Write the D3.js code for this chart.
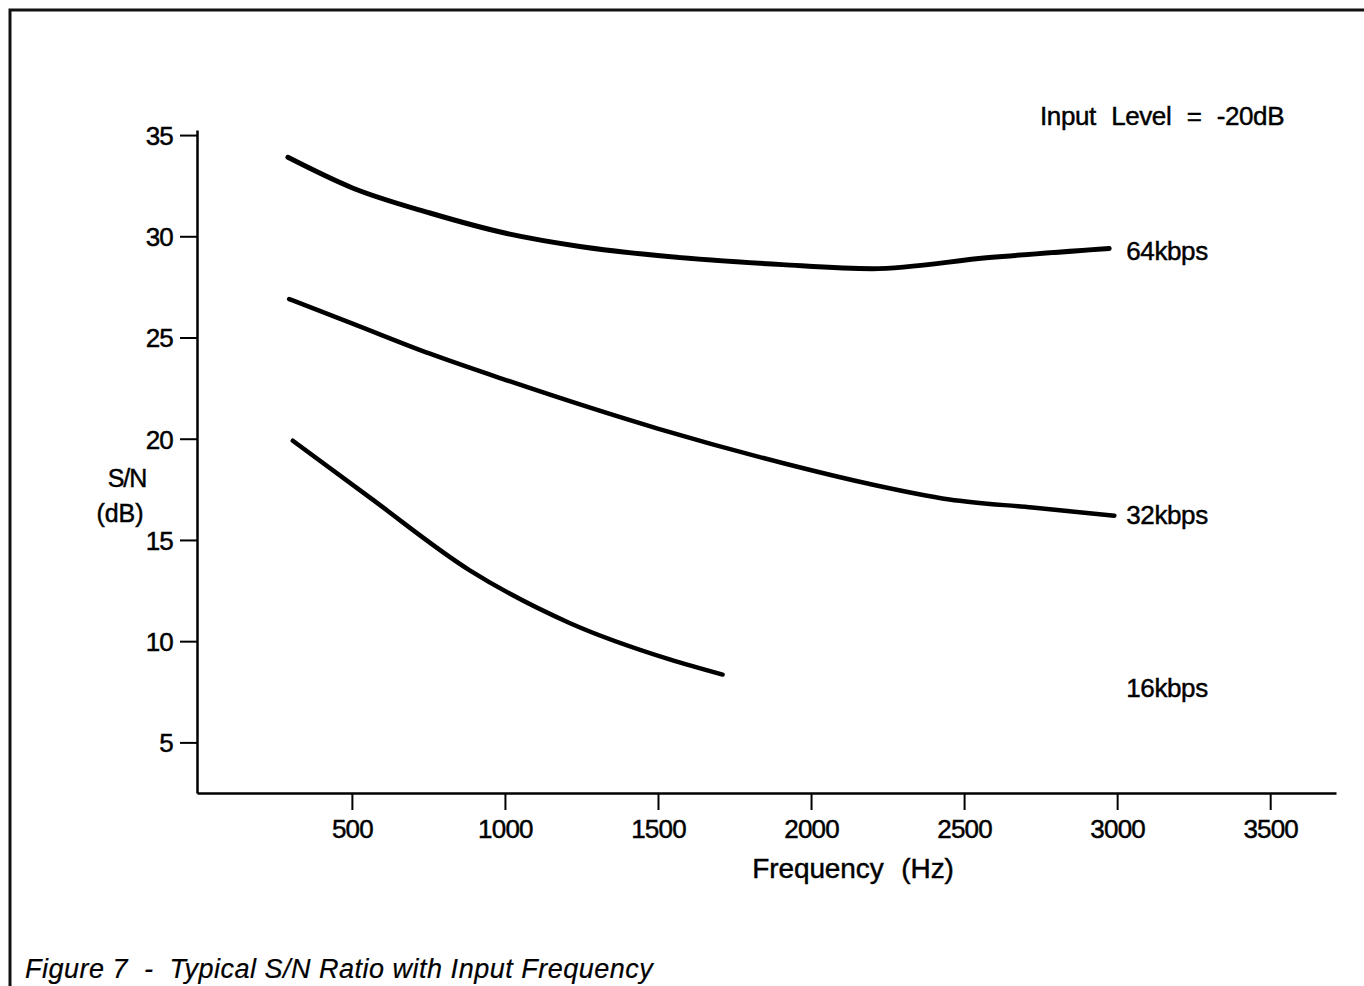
<!DOCTYPE html>
<html>
    <head>
        <title>S/N vs frequency</title>
        <meta charset="utf-8">
        <style>
            html, body{
                margin: 0;
                padding: 0;
                background: #fff;
            }
            svg text{
                font-family: "Liberation Sans", Arial, Helvetica, sans-serif;
                fill: #000;
                stroke: #000;
                stroke-width: 0.45px;
            }
        </style>
    </head>
    <body>
        <svg id="chart" width="1364" height="986"></svg>
        <script src="https://cdn.jsdelivr.net/npm/d3@7"></script>
        <script>
            // values
            var series = ["64kbps", "32kbps", "16kbps"];
            var freq64 = [291, 500, 755, 1003, 1245, 1499, 1906, 2200, 2582, 2974];
            var sn64   = [33.9, 32.4, 31.15, 30.15, 29.5, 29.05, 28.6, 28.4, 28.95, 29.4];
            var freq32 = [295, 500, 755, 1003, 1499, 1907, 2181, 2452, 2723, 2991];
            var sn32   = [26.9, 25.7, 24.2, 22.9, 20.5, 18.8, 17.8, 17.0, 16.6, 16.2];
            var freq16 = [307, 558, 885, 1211, 1538, 1711];
            var sn16   = [19.9, 17.1, 13.5, 10.9, 9.1, 8.35];
            var labelAt = [29.3, 16.25, 7.7];   // S/N value where each series name sits
            var xTicks = [500, 1000, 1500, 2000, 2500, 3000, 3500];
            var yTicks = [5, 10, 15, 20, 25, 30, 35];

            var curves = [
                {name: series[0], f: freq64, v: sn64},
                {name: series[1], f: freq32, v: sn32},
                {name: series[2], f: freq16, v: sn16}
            ];

            var svg = d3.select("#chart");

            // scan frame (top + left edge)
            svg.append("path")
                .attr("d", "M10,986 L10,10 L1364,10")
                .attr("fill", "none")
                .attr("stroke", "#111")
                .attr("stroke-width", 3);

            var x = d3.scaleLinear().domain([-6, 3715]).range([197, 1336]);
            var y = d3.scaleLinear().domain([2.5, 35.25]).range([793, 130]);

            var xAxis = svg.append("g")
                .attr("transform", "translate(0,793)")
                .call(d3.axisBottom(x).tickValues(xTicks).tickFormat(d3.format("d"))
                    .tickSize(17).tickPadding(5).tickSizeOuter(0));
            var yAxis = svg.append("g")
                .attr("transform", "translate(197,0)")
                .call(d3.axisLeft(y).tickValues(yTicks).tickFormat(d3.format("d"))
                    .tickSize(17).tickPadding(7).tickSizeOuter(0));

            [xAxis, yAxis].forEach(function(g){
                g.select(".domain").attr("stroke", "#000").attr("stroke-width", 2.5);
                g.selectAll(".tick line").attr("stroke", "#000").attr("stroke-width", 2);
                g.selectAll(".tick text")
                    .attr("font-size", 26)
                    .attr("letter-spacing", "-0.8px")
                    .attr("fill", "#000")
                    .style("font-family", "'Liberation Sans', Arial, sans-serif");
            });
            xAxis.selectAll(".tick text").attr("dy", "0.9em");
            yAxis.selectAll(".tick text").attr("dy", "0.36em");

            var line = d3.line()
                .x(function(d){ return x(d[0]); })
                .y(function(d){ return y(d[1]); })
                .curve(d3.curveMonotoneX);

            svg.selectAll("path.curve")
                .data(curves)
                .enter()
                .append("path")
                .attr("class", "curve")
                .attr("d", function(c){ return line(d3.zip(c.f, c.v)); })
                .attr("fill", "none")
                .attr("stroke", "#000")
                .attr("stroke-width", function(c, i){ return i == 0 ? 5 : 4.5; })
                .attr("stroke-linecap", "round");

            svg.selectAll("text.series")
                .data(curves)
                .enter()
                .append("text")
                .attr("class", "series")
                .attr("x", x(3030))
                .attr("y", function(c, i){ return y(labelAt[i]); })
                .attr("dy", "0.36em")
                .attr("font-size", 26)
                .attr("letter-spacing", "-0.4px")
                .text(function(c){ return c.name; });

            svg.append("text")
                .attr("x", 1040)
                .attr("y", 125)
                .attr("font-size", 26)
                .attr("letter-spacing", "-0.4px")
                .attr("word-spacing", "8.5px")
                .text("Input Level = -20dB");

            // axis titles
            var yTitle = svg.append("text")
                .attr("text-anchor", "middle")
                .attr("font-size", 25);
            yTitle.append("tspan").attr("x", 127).attr("y", 487).attr("letter-spacing", "-1px").text("S/N");
            yTitle.append("tspan").attr("x", 120).attr("y", 522).text("(dB)");

            svg.append("text")
                .attr("x", 853)
                .attr("y", 878)
                .attr("text-anchor", "middle")
                .attr("font-size", 28)
                .attr("letter-spacing", "-0.1px")
                .attr("word-spacing", "10px")
                .text("Frequency (Hz)");

            svg.append("text")
                .attr("x", 25)
                .attr("y", 978)
                .attr("font-size", 27)
                .attr("font-style", "italic")
                .attr("letter-spacing", "0.5px")
                .style("stroke-width", "0.2px")
                .style("white-space", "pre")
                .text("Figure 7  -  Typical S/N Ratio with Input Frequency");
        </script>
    </body>
</html>
